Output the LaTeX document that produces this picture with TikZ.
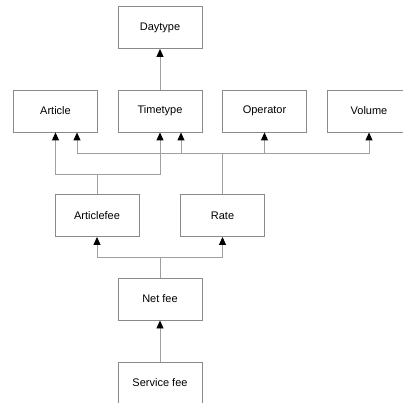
\documentclass[tikz,border=0pt]{standalone}
\usepackage{fontspec}
\setmainfont{Liberation Sans}
\usetikzlibrary{arrows.meta}
\definecolor{boxline}{HTML}{8A8A8A}
\definecolor{wire}{HTML}{A0A0A0}
\tikzset{
  entity/.style={draw=boxline, line width=0.9pt, fill=white, minimum width=84pt, minimum height=42pt,
    inner sep=0pt, font=\fontsize{11}{13}\selectfont},
  wireline/.style={draw=wire, line width=0.9pt},
  uses/.style={wireline, -{Triangle[length=8pt,width=7pt,fill=black,color=black]}},
}
\begin{document}
\begin{tikzpicture}[x=1pt,y=-1pt]
\useasboundingbox (0,0) rectangle (403,403);
\clip (0,0) rectangle (403,403);
\fill[white] (0,0) rectangle (403,403);

% entities
\node[entity] (day)  at (160,27.5)   {Daytype};
\node[entity] (art)  at (55.5,111)   {Article};
\node[entity] (time) at (160,111)    {Timetype};
\node[entity] (op)   at (264.5,111)  {Operator};
\node[entity] (vol)  at (369,111)    {Volume};
\node[entity] (afee) at (97,215.5)   {Articlefee};
\node[entity] (rate) at (222.5,215.5){Rate};
\node[entity] (net)  at (160,299)    {Net fee};
\node[entity] (svc)  at (160,383)    {Service fee};

% Timetype -> Daytype
\draw[uses] (time.north) -- (day.south);

% Articlefee -> Article, Timetype
\coordinate (ab) at (97,174);
\draw[wireline] (afee.north) -- (ab);
\draw[uses] (ab) -| (art.south);
\draw[uses] (ab) -| (time.south);

% Rate -> Article, Timetype, Operator, Volume
\coordinate (rb) at (222.5,153);
\draw[wireline] (rate.north) -- (rb);
\draw[uses] (rb) -| ([xshift=21.5pt]art.south);
\draw[uses] (rb) -| ([xshift=21pt]time.south);
\draw[uses] (rb) -| (op.south);
\draw[uses] (rb) -| (vol.south);

% Net fee -> Articlefee, Rate
\coordinate (nb) at (160,257);
\draw[wireline] (net.north) -- (nb);
\draw[uses] (nb) -| (afee.south);
\draw[uses] (nb) -| (rate.south);

% Service fee -> Net fee
\draw[uses] (svc.north) -- (net.south);
\end{tikzpicture}
\end{document}
